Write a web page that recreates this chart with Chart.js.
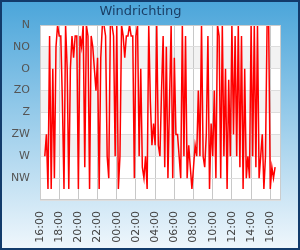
<!DOCTYPE html>
<html>
<head>
<meta charset="utf-8">
<script src="https://cdn.jsdelivr.net/npm/chart.js@4"></script>
<style>
  html, body { margin: 0; padding: 0; background: #fff; }
  #wrap { width: 300px; height: 250px; position: relative; }
</style>
</head>
<body>
<div id="wrap"><canvas id="windChart" width="300" height="250"></canvas></div>
<script>
// windrichting in graden, elke 10 minuten vanaf 16:00 (null = geen meting)
const directionValues = [
  null, null, null, 270, 225, 337.5, 22.5, 337.5, 90, 315,
  45, 0, 22.5, 22.5, 157.5, 337.5, 0, 90, 337.5, 90,
  22.5, 67.5, 22.5, 22.5, 337.5, 22.5, 45, 0, 292.5, 0,
  22.5, 337.5, 22.5, 45, 90, 135, 67.5, 337.5, 67.5, 0,
  0, 22.5, 270, 315, 0, 0, 22.5, 270, 0, 337.5,
  270, 0, 22.5, 67.5, 22.5, 22.5, 0, 22.5, 22.5, 315,
  22.5, 0, 270, 90, 292.5, 315, 270, 337.5, 0, 157.5,
  247.5, 202.5, 247.5, 0, 247.5, 270, 135, 22.5, 292.5, 45,
  315, 157.5, 0, 315, 67.5, 225, 225, 270, 315, 0,
  270, 22.5, 315, 247.5, 292.5, 337.5, 292.5, 247.5, 270, 135,
  270, 0, 270, 292.5, 225, 22.5, 337.5, 202.5, 270, 135,
  315, 0, 22.5, 315, 0, 270, 90, 337.5, 112.5, 270,
  0, 225, 22.5, 270, 0, 292.5, 22.5, 337.5, 90, 315,
  270, 315, 0, 270, 0, 292.5, 0, 315, 270, 225,
  337.5, 270, 0, 0, 337.5, 292.5, 315, 292.5
];
const slotMinutes = 10;

const dirLabels = ["N", "NO", "O", "ZO", "Z", "ZW", "W", "NW"];
const timeLabels = ["16:00", "18:00", "20:00", "22:00", "00:00", "02:00", "04:00",
  "06:00", "08:00", "10:00", "12:00", "14:00", "16:00"];
// grijze banden (graden)
const bandRanges = [[45, 90], [135, 180], [225, 270]];

const points = directionValues.map((v, i) => ({ x: i * slotMinutes, y: v }));

const backgroundPlugin = {
  id: "background",
  beforeDraw(chart) {
    const { ctx, width, height, chartArea, scales: { y } } = chart;
    ctx.save();
    const grad = ctx.createLinearGradient(0, 0, 0, height);
    grad.addColorStop(0, "#4aa5da");
    grad.addColorStop(1, "#f0f7fc");
    ctx.fillStyle = grad;
    ctx.fillRect(0, 0, width, height);
    ctx.strokeStyle = "#123b6b";
    ctx.lineWidth = 2;
    ctx.strokeRect(1, 1, width - 2, height - 2);

    ctx.fillStyle = "#ffffff";
    ctx.fillRect(chartArea.left, chartArea.top, chartArea.width, chartArea.height);
    ctx.fillStyle = "#f2f2f2";
    bandRanges.forEach(([a, b]) => {
      const y1 = y.getPixelForValue(a);
      const y2 = y.getPixelForValue(b);
      ctx.fillRect(chartArea.left, y1, chartArea.width, y2 - y1);
    });
    ctx.restore();
  },
  afterDatasetsDraw(chart) {
    const { ctx, chartArea } = chart;
    ctx.save();
    ctx.strokeStyle = "#cccccc";
    ctx.lineWidth = 1;
    ctx.strokeRect(chartArea.left + 0.5, chartArea.top + 0.5, chartArea.width - 1, chartArea.height - 1);
    ctx.restore();
  },
};

new Chart(document.getElementById("windChart"), {
  type: "line",
  data: {
    datasets: [{
      label: "Windrichting",
      data: points,
      borderColor: "#ff0000",
      borderWidth: 1.5,
      pointRadius: 0,
      tension: 0,
      spanGaps: false,
    }],
  },
  options: {
    responsive: false,
    animation: false,
    layout: { padding: { left: 0, right: 19, top: 0, bottom: 0 } },
    plugins: {
      legend: { display: false },
      tooltip: { enabled: false },
      title: {
        display: true,
        text: "Windrichting",
        color: "#1b3f66",
        font: { family: "DejaVu Sans", size: 13, weight: "normal" },
        padding: { top: 4, bottom: 5.4 },
      },
    },
    scales: {
      x: {
        type: "linear",
        min: 0,
        max: 1507,
        afterFit: (scale) => { scale.height = 50; },
        grid: { color: "#c8c8c8", drawTicks: false },
        border: { display: false },
        ticks: {
          stepSize: 120,
          includeBounds: false,
          autoSkip: false,
          minRotation: 90,
          maxRotation: 90,
          padding: 11,
          color: "#444444",
          font: { family: "DejaVu Sans", size: 11 },
          callback: (value) => timeLabels[value / 120] ?? "",
        },
      },
      y: {
        type: "linear",
        reverse: true,
        min: 0,
        max: 360,
        afterFit: (scale) => { scale.width = 40; },
        grid: { color: "#dddddd", drawTicks: false },
        border: { display: false },
        ticks: {
          stepSize: 45,
          padding: 10,
          color: "#555555",
          font: { family: "DejaVu Sans", size: 11 },
          callback: (value) => dirLabels[value / 45] ?? "",
        },
      },
    },
  },
  plugins: [backgroundPlugin],
});
</script>
</body>
</html>
